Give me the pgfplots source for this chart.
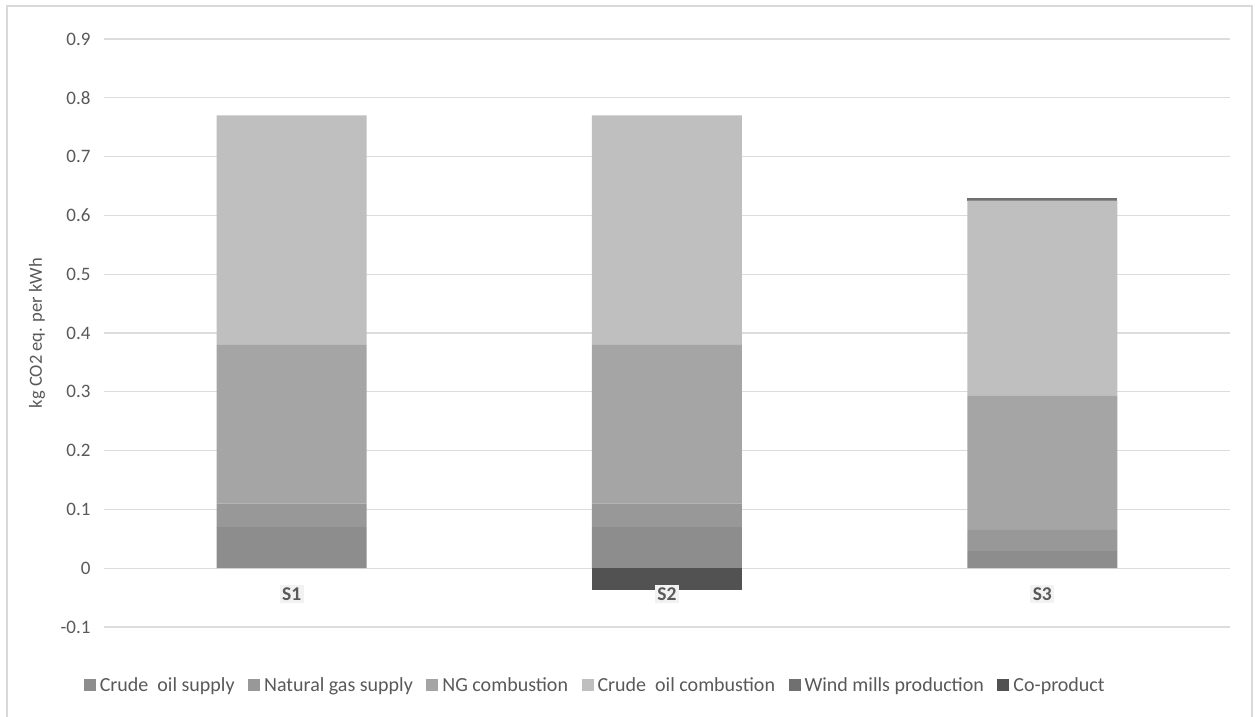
\documentclass[border=0pt]{standalone}
\usepackage{pgfplots}
\pgfplotsset{compat=1.18}
\usepackage{fontspec}
\setmainfont{Carlito}
\definecolor{cA}{HTML}{8D8D8D}
\definecolor{cB}{HTML}{989898}
\definecolor{cC}{HTML}{A5A5A5}
\definecolor{cD}{HTML}{BFBFBF}
\definecolor{cE}{HTML}{707070}
\definecolor{cF}{HTML}{525252}
\definecolor{gridc}{HTML}{DCDCDC}
\definecolor{framec}{HTML}{D9D9D9}
\definecolor{txt}{HTML}{595959}
\definecolor{lblbg}{HTML}{F2F2F2}
\begin{document}
\begin{tikzpicture}
\pgfplotsset{
  common/.style={
    scale only axis, width=1126pt, height=588pt,
    at={(0pt,0pt)}, anchor=south west,
    xmin=-0.5, xmax=2.5, ymin=-0.1, ymax=0.9,
  }
}
\begin{axis}[common,
  ybar stacked, bar width=150pt,
  axis line style={draw=none},
  tick style={draw=none},
  xtick=\empty,
  ytick={-0.1,0,0.1,0.2,0.3,0.4,0.5,0.6,0.7,0.8,0.9},
  ymajorgrids, grid style={gridc, line width=1.2pt},
  /pgf/number format/assume math mode=true,
  /pgf/number format/fixed, /pgf/number format/precision=1,
  yticklabel style={font=\fontsize{19}{22}\selectfont, text=txt, anchor=east, xshift=-10pt},
  ylabel={kg CO2 eq. per kWh},
  every axis y label/.style={at={(axis description cs:-0.0595,0.5)}, rotate=90, anchor=center, font=\fontsize{18.5}{22}\selectfont, text=txt},
  legend columns=6,
  legend image code/.code={\fill[#1,draw=none] (0pt,-6pt) rectangle (12pt,6pt);},
  legend style={draw=none, fill=none, at={(0.4365,-0.0986)}, anchor=center,
    font=\fontsize{20}{24}\selectfont, text=txt,
    /tikz/every even column/.append style={column sep=11pt},
    /tikz/every odd column/.append style={column sep=1.5pt},
    nodes={inner sep=2.5pt}},
]
\addplot[fill=cA, draw=none] coordinates {(0,0.07) (1,0.07) (2,0.029)};
\addlegendentry{Crude\ \ oil supply}
\addplot[fill=cB, draw=none] coordinates {(0,0.04) (1,0.04) (2,0.036)};
\addlegendentry{Natural gas supply}
\addplot[fill=cC, draw=none] coordinates {(0,0.27) (1,0.27) (2,0.229)};
\addlegendentry{NG combustion}
\addplot[fill=cD, draw=none] coordinates {(0,0.39) (1,0.39) (2,0.331)};
\addlegendentry{Crude\ \ oil combustion}
\addplot[fill=cE, draw=none] coordinates {(0,0) (1,0) (2,0.005)};
\addlegendentry{Wind mills production}
\addlegendimage{fill=cF, draw=none}
\addlegendentry{Co-product}
\end{axis}
\begin{axis}[common, hide axis, ybar, bar width=150pt]
\addplot[fill=cF, draw=none] coordinates {(1,-0.037)};
\node[fill=lblbg, text=txt, font=\bfseries\fontsize{19.5}{22}\selectfont, inner sep=2.5pt] at (axis cs:0,-0.044) {S1};
\node[fill=lblbg, text=txt, font=\bfseries\fontsize{19.5}{22}\selectfont, inner sep=2.5pt] at (axis cs:1,-0.044) {S2};
\node[fill=lblbg, text=txt, font=\bfseries\fontsize{19.5}{22}\selectfont, inner sep=2.5pt] at (axis cs:2,-0.044) {S3};
\end{axis}
\draw[framec, line width=2pt] (-97pt,-95pt) -- (-97pt,621pt) -- (1148pt,621pt) -- (1148pt,-95pt);
\pgfresetboundingbox
\path[use as bounding box] (-104pt,-89pt) rectangle (1151pt,627pt);
\end{tikzpicture}
\end{document}
